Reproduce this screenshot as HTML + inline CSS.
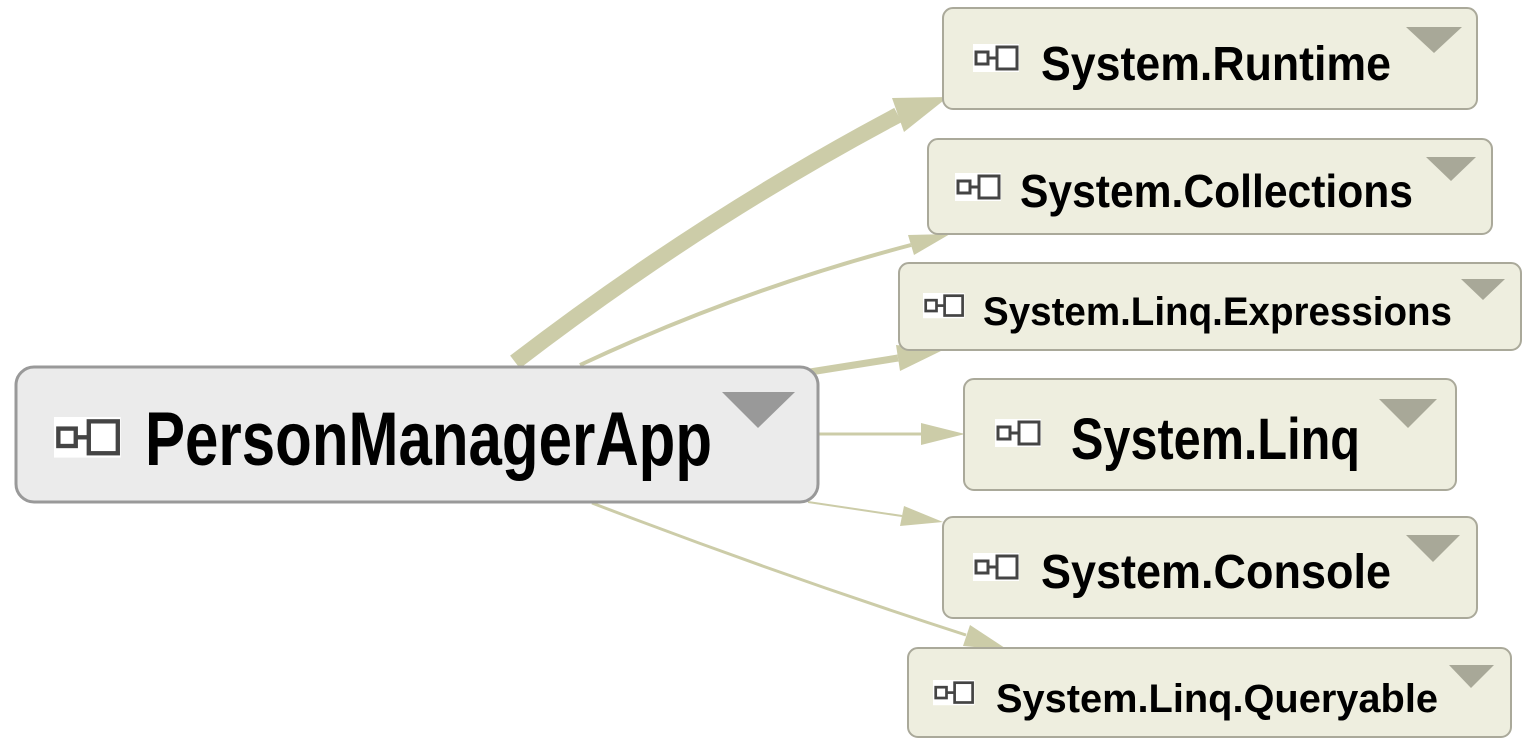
<!DOCTYPE html>
<html><head><meta charset="utf-8"><style>
html,body{margin:0;padding:0;background:#fff;width:1536px;height:745px;overflow:hidden}
text{font-family:"Liberation Sans",sans-serif;font-weight:bold;fill:#000}
</style></head><body>
<svg width="1536" height="745" viewBox="0 0 1536 745" xmlns="http://www.w3.org/2000/svg">
<defs>
<g id="ic">
<rect x="0" y="0" width="46" height="28" fill="#fff"/>
<rect x="3" y="8" width="12" height="12" fill="#fff" stroke="#444" stroke-width="3"/>
<line x1="15" y1="14" x2="24" y2="14" stroke="#444" stroke-width="3"/>
<rect x="24" y="3" width="20" height="22" fill="#fff" stroke="#444" stroke-width="3"/>
</g>
</defs>
<g fill="none" stroke="#cccca8" stroke-linecap="butt">
<path d="M515,362 Q700,220 898,115" stroke-width="16"/>
<path d="M580,365 Q740,290 911,245" stroke-width="4"/>
<path d="M810,372 L898,358" stroke-width="7"/>
<path d="M818,434 L921,434" stroke-width="3"/>
<path d="M808,502 L902,516" stroke-width="2"/>
<path d="M592,503 Q780,575 966,635" stroke-width="3"/>
</g>
<g fill="#cccca8">
<polygon points="948,97 904,132 892,98"/>
<polygon points="950,234 914,255 908,235"/>
<polygon points="943,350 900,371 896,345"/>
<polygon points="965,434 921,445 921,423"/>
<polygon points="943,522 900,526 904,506"/>
<polygon points="1008,650 963,646 970,625"/>
</g>
<rect x="16" y="367" width="802" height="135" rx="18" fill="#ebebeb" stroke="#999" stroke-width="3"/>
<use href="#ic" transform="translate(54,417) scale(1.45)"/>
<text x="145" y="465" font-size="76" textLength="567" lengthAdjust="spacingAndGlyphs">PersonManagerApp</text>
<polygon points="722,392 795,392 758,428" fill="#999"/>
<g stroke="#aaa99a" stroke-width="2" fill="#eeeedf">
<rect x="943" y="8" width="534" height="101" rx="10"/>
<rect x="928" y="139" width="564" height="95" rx="10"/>
<rect x="899" y="263" width="622" height="87" rx="10"/>
<rect x="964" y="379" width="492" height="111" rx="10"/>
<rect x="943" y="517" width="534" height="101" rx="10"/>
<rect x="908" y="648" width="603" height="89" rx="10"/>
</g>
<use href="#ic" transform="translate(973,44)"/>
<use href="#ic" transform="translate(955,173)"/>
<use href="#ic" transform="translate(923,293) scale(0.9)"/>
<use href="#ic" transform="translate(995,419)"/>
<use href="#ic" transform="translate(973,553)"/>
<use href="#ic" transform="translate(933,680) scale(0.9)"/>
<text x="1041" y="80" font-size="48" textLength="350" lengthAdjust="spacingAndGlyphs">System.Runtime</text>
<text x="1020" y="207" font-size="46" textLength="393" lengthAdjust="spacingAndGlyphs">System.Collections</text>
<text x="983" y="325" font-size="40" textLength="469" lengthAdjust="spacingAndGlyphs">System.Linq.Expressions</text>
<text x="1071" y="459" font-size="58" textLength="289" lengthAdjust="spacingAndGlyphs">System.Linq</text>
<text x="1041" y="588" font-size="48" textLength="350" lengthAdjust="spacingAndGlyphs">System.Console</text>
<text x="996" y="712" font-size="40" textLength="442" lengthAdjust="spacingAndGlyphs">System.Linq.Queryable</text>
<g fill="#a8a898">
<polygon points="1406,27 1462,27 1434,53"/>
<polygon points="1426,157 1476,157 1451,181"/>
<polygon points="1461,279 1505,279 1483,300"/>
<polygon points="1379,399 1437,399 1408,428"/>
<polygon points="1406,535 1460,535 1433,562"/>
<polygon points="1449,665 1494,665 1471,688"/>
</g>
</svg>
</body></html>
